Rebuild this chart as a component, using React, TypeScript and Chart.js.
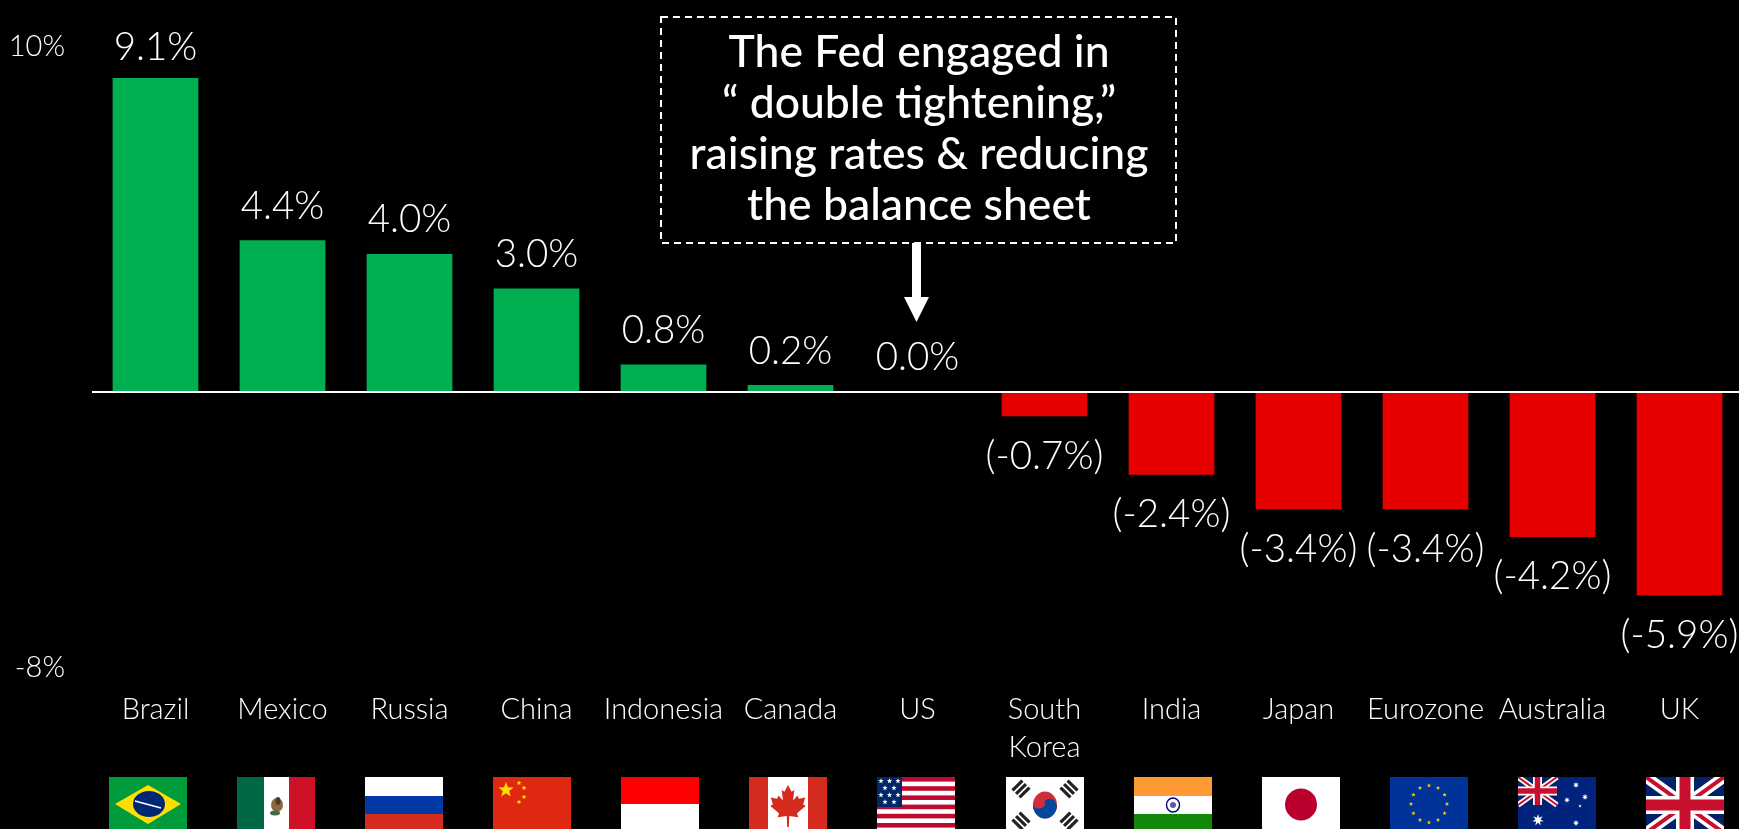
import React, { useEffect, useRef } from "react";
import { Chart, registerables } from "chart.js";

Chart.register(...registerables);

const countries = ["Brazil", "Mexico", "Russia", "China", "Indonesia", "Canada", "US", ["South", "Korea"], "India", "Japan", "Eurozone", "Australia", "UK"];
const flagCodes = ["br", "mx", "ru", "cn", "id", "ca", "us", "kr", "in", "jp", "eu", "au", "gb"];
const changes = [9.1, 4.4, 4.0, 3.0, 0.8, 0.2, 0.0, -0.7, -2.4, -3.4, -3.4, -4.2, -5.9];
const axisTicks = [10, 0, -8];
const calloutLines = ["The Fed engaged in", "\u201C double tightening,\u201D", "raising rates & reducing", "the balance sheet"];

const FONT = "Lato, 'Open Sans', sans-serif";
const GREEN = "#00B050";
const RED = "#E60000";
const FLAG_W = 78;
const FLAG_H = 56;
const FLAG_LEFT = 109;
const FLAG_STEP = 128.08;
const FLAG_TOP = 777;

type Ctx = CanvasRenderingContext2D;

function rect(c: Ctx, color: string, x: number, y: number, w: number, h: number) {
  c.fillStyle = color;
  c.fillRect(x, y, w, h);
}

function star(c: Ctx, cx: number, cy: number, r: number, color: string, points = 5) {
  c.fillStyle = color;
  c.beginPath();
  for (let i = 0; i < points * 2; i++) {
    const rad = i % 2 === 0 ? r : r * 0.42;
    const a = -Math.PI / 2 + (i * Math.PI) / points;
    const px = cx + rad * Math.cos(a);
    const py = cy + rad * Math.sin(a);
    if (i === 0) c.moveTo(px, py);
    else c.lineTo(px, py);
  }
  c.closePath();
  c.fill();
}

function disc(c: Ctx, color: string, cx: number, cy: number, rx: number, ry = rx) {
  c.fillStyle = color;
  c.beginPath();
  c.ellipse(cx, cy, rx, ry, 0, 0, Math.PI * 2);
  c.fill();
}

function unionJack(c: Ctx, w: number, h: number) {
  rect(c, "#012169", 0, 0, w, h);
  const diag = (color: string, lw: number) => {
    c.strokeStyle = color;
    c.lineWidth = lw;
    c.beginPath();
    c.moveTo(0, 0);
    c.lineTo(w, h);
    c.moveTo(w, 0);
    c.lineTo(0, h);
    c.stroke();
  };
  const scale = h / FLAG_H;
  diag("#FFFFFF", 11 * scale);
  diag("#C8102E", 4 * scale);
  rect(c, "#FFFFFF", w / 2 - 9 * scale, 0, 18 * scale, h);
  rect(c, "#FFFFFF", 0, h / 2 - 9 * scale, w, 18 * scale);
  rect(c, "#C8102E", w / 2 - 5.5 * scale, 0, 11 * scale, h);
  rect(c, "#C8102E", 0, h / 2 - 5.5 * scale, w, 11 * scale);
}

function mapleLeaf(c: Ctx, cx: number, cy: number, s: number) {
  const half = [
    [0, -1], [0.17, -0.68], [0.3, -0.76], [0.24, -0.26], [0.45, -0.5], [0.52, -0.35], [0.82, -0.4],
    [0.72, -0.08], [0.84, 0], [0.42, 0.36], [0.5, 0.54], [0.06, 0.48], [0.04, 1], [-0.04, 1],
  ];
  c.fillStyle = "#D52B1E";
  c.beginPath();
  half.forEach(([x, y], i) => (i === 0 ? c.moveTo(cx + x * s, cy + y * s) : c.lineTo(cx + x * s, cy + y * s)));
  [...half].reverse().slice(0, -1).forEach(([x, y]) => {
    if (x > 0.05) c.lineTo(cx - x * s, cy + y * s);
  });
  c.closePath();
  c.fill();
}

function trigram(c: Ctx, cx: number, cy: number, angle: number) {
  c.save();
  c.translate(cx, cy);
  c.rotate(angle);
  c.fillStyle = "#222222";
  [-5, 0, 5].forEach((y) => c.fillRect(-7, y - 1.6, 14, 3.2));
  c.restore();
}

// Each painter works in a local FLAG_W x FLAG_H box.
const flagPainters: Record<string, (c: Ctx) => void> = {
  br: (c) => {
    rect(c, "#009B3A", 0, 0, FLAG_W, FLAG_H);
    c.fillStyle = "#FEDF00";
    c.beginPath();
    c.moveTo(39, 8);
    c.lineTo(72, 27);
    c.lineTo(39, 47);
    c.lineTo(6, 27);
    c.closePath();
    c.fill();
    disc(c, "#002776", 40, 27, 16, 13);
    c.strokeStyle = "#FFFFFF";
    c.lineWidth = 1.6;
    c.beginPath();
    c.moveTo(26, 24);
    c.lineTo(52, 31);
    c.stroke();
  },
  mx: (c) => {
    rect(c, "#006847", 0, 0, 27, FLAG_H);
    rect(c, "#FFFFFF", 27, 0, 25, FLAG_H);
    rect(c, "#CE1126", 52, 0, 26, FLAG_H);
    disc(c, "#8C6A3F", 40, 28, 6, 7);
    disc(c, "#3F6B4A", 38, 36, 5, 2.5);
    disc(c, "#4B3A2A", 41, 24, 2.5, 4);
  },
  ru: (c) => {
    rect(c, "#FFFFFF", 0, 0, FLAG_W, 19);
    rect(c, "#0039A6", 0, 19, FLAG_W, 18);
    rect(c, "#D52B1E", 0, 37, FLAG_W, 19);
  },
  cn: (c) => {
    rect(c, "#DE2910", 0, 0, FLAG_W, FLAG_H);
    star(c, 13, 13, 8, "#FFDE00");
    star(c, 26, 6, 2.6, "#FFDE00");
    star(c, 31, 11, 2.6, "#FFDE00");
    star(c, 31, 20, 2.6, "#FFDE00");
    star(c, 26, 25, 2.6, "#FFDE00");
  },
  id: (c) => {
    rect(c, "#FF0000", 0, 0, FLAG_W, 27);
    rect(c, "#FFFFFF", 0, 27, FLAG_W, 29);
  },
  ca: (c) => {
    rect(c, "#D52B1E", 0, 0, FLAG_W, FLAG_H);
    rect(c, "#FFFFFF", 19, 0, 40, FLAG_H);
    mapleLeaf(c, 39, 29, 21);
  },
  us: (c) => {
    rect(c, "#FFFFFF", 0, 0, FLAG_W, FLAG_H);
    for (let i = 0; i < 13; i += 2) rect(c, "#BF0A30", 0, i * 4.6, FLAG_W, 4.6);
    rect(c, "#002868", 0, 0, 25, 30);
    [4, 11, 18, 25].forEach((y, row) => {
      const xs = row % 2 === 0 ? [4, 12.5, 21] : [8, 17];
      xs.forEach((x) => star(c, x, y, 2.8, "#FFFFFF"));
    });
  },
  kr: (c) => {
    rect(c, "#FFFFFF", 0, 0, FLAG_W, FLAG_H);
    disc(c, "#CD2E3A", 39, 28, 12, 13.5);
    c.fillStyle = "#0047A0";
    c.beginPath();
    c.ellipse(39, 28, 12, 13.5, 0, 0, Math.PI);
    c.fill();
    disc(c, "#0047A0", 44, 27, 6, 5);
    disc(c, "#CD2E3A", 33, 27, 6, 4.5);
    trigram(c, 15, 12, -Math.PI / 4);
    trigram(c, 63, 12, Math.PI / 4);
    trigram(c, 15, 44, Math.PI / 4);
    trigram(c, 63, 44, -Math.PI / 4);
  },
  in: (c) => {
    rect(c, "#FF9933", 0, 0, FLAG_W, 19);
    rect(c, "#FFFFFF", 0, 19, FLAG_W, 18);
    rect(c, "#138808", 0, 37, FLAG_W, 19);
    c.strokeStyle = "#000080";
    c.lineWidth = 1.4;
    c.beginPath();
    c.ellipse(39, 28, 6.5, 7, 0, 0, Math.PI * 2);
    c.stroke();
    disc(c, "#5A5AA8", 39, 28, 3);
  },
  jp: (c) => {
    rect(c, "#FFFFFF", 0, 0, FLAG_W, FLAG_H);
    disc(c, "#BC002D", 39, 27.5, 16);
  },
  eu: (c) => {
    rect(c, "#003399", 0, 0, FLAG_W, FLAG_H);
    for (let i = 0; i < 12; i++) {
      const a = (i * Math.PI) / 6;
      star(c, 39 + 18 * Math.cos(a), 27 + 18.5 * Math.sin(a), 2.3, "#FFCC00");
    }
  },
  au: (c) => {
    rect(c, "#00247D", 0, 0, FLAG_W, FLAG_H);
    unionJack(c, 39, 28);
    star(c, 20, 43, 6, "#FFFFFF", 7);
    star(c, 58, 8, 3.2, "#FFFFFF", 7);
    star(c, 67, 20, 3.2, "#FFFFFF", 7);
    star(c, 49, 23, 3, "#FFFFFF", 7);
    star(c, 62, 29, 1.8, "#FFFFFF", 5);
    star(c, 58, 46, 3.2, "#FFFFFF", 7);
  },
  gb: (c) => unionJack(c, FLAG_W, FLAG_H),
};

// Value labels, the Fed callout with its arrow, and the row of flags.
const decorations = {
  id: "decorations",
  afterDatasetsDraw(chart: Chart) {
    const c = chart.ctx;
    const x = chart.scales.x;
    const y = chart.scales.y;
    c.save();

    // Value labels sit a fixed distance from the bar end, held below the top of the scale.
    c.fillStyle = "#FFFFFF";
    c.font = `300 38.5px ${FONT}`;
    c.textAlign = "center";
    c.textBaseline = "middle";
    changes.forEach((v, i) => {
      const text = v < 0 ? `(${v.toFixed(1)}%)` : `${v.toFixed(1)}%`;
      const end = y.getPixelForValue(v);
      const py = v < 0 ? end + 40 : Math.max(y.getPixelForValue(10) + 1, end - 34);
      c.fillText(text, x.getPixelForTick(i), py);
    });

    // Flags sit below the tick labels and run off the bottom edge.
    flagCodes.forEach((code, i) => {
      c.save();
      c.translate(Math.round(FLAG_LEFT + i * FLAG_STEP), FLAG_TOP);
      c.beginPath();
      c.rect(0, 0, FLAG_W, FLAG_H);
      c.clip();
      flagPainters[code](c);
      c.restore();
    });

    // Callout box
    c.strokeStyle = "#FFFFFF";
    c.lineWidth = 2;
    c.setLineDash([7, 5]);
    c.strokeRect(661, 17, 515, 226);
    c.setLineDash([]);
    c.font = `500 44.5px ${FONT}`;
    calloutLines.forEach((line, i) => c.fillText(line, 919, 53 + i * 51));

    // Arrow from the callout down to the US label
    const ax = x.getPixelForTick(6) - 1;
    c.fillStyle = "#FFFFFF";
    c.fillRect(ax - 4.5, 243, 9, 55);
    c.beginPath();
    c.moveTo(ax - 12.5, 297);
    c.lineTo(ax + 12.5, 297);
    c.lineTo(ax, 322);
    c.closePath();
    c.fill();
    c.restore();
  },
};

export default function App() {
  const ref = useRef<HTMLCanvasElement>(null);

  useEffect(() => {
    const chart = new Chart(ref.current!, {
      type: "bar",
      data: {
        labels: countries as any,
        datasets: [
          {
            data: changes,
            backgroundColor: changes.map((v) => (v >= 0 ? GREEN : RED)),
            barPercentage: 0.675,
            categoryPercentage: 1,
            borderWidth: 0,
          },
        ],
      },
      options: {
        responsive: false,
        animation: false,
        layout: { padding: { top: 47, left: 0, right: 0, bottom: 0 } },
        plugins: { legend: { display: false }, tooltip: { enabled: false }, title: { display: false } },
        scales: {
          x: {
            grid: { display: false },
            border: { display: false },
            afterFit: (s: any) => {
              s.height = 161;
            },
            ticks: {
              color: "#FFFFFF",
              font: { family: FONT, size: 29, weight: "300", lineHeight: 1.33 },
              maxRotation: 0,
              autoSkip: false,
              padding: 14,
            },
          },
          y: {
            min: -8,
            max: 10,
            afterFit: (s: any) => {
              s.width = 92;
            },
            afterBuildTicks: (s: any) => {
              s.ticks = axisTicks.map((value) => ({ value }));
            },
            border: { display: false },
            grid: {
              drawTicks: false,
              lineWidth: 2,
              color: (ctx: any) => (ctx.tick && ctx.tick.value === 0 ? "#FFFFFF" : "rgba(0,0,0,0)"),
            },
            ticks: {
              color: "#FFFFFF",
              font: { family: FONT, size: 29, weight: "300" },
              padding: 27,
              callback: (v: any) => (v === 0 ? "" : `${v}%`),
            },
          },
        },
      },
      plugins: [decorations],
    });
    return () => chart.destroy();
  }, []);

  return (
    <div style={{ position: "fixed", left: 0, top: 0, width: 1739, height: 829, overflow: "hidden", background: "#000" }}>
      <canvas ref={ref} width={1743} height={829} style={{ display: "block" }} />
    </div>
  );
}
